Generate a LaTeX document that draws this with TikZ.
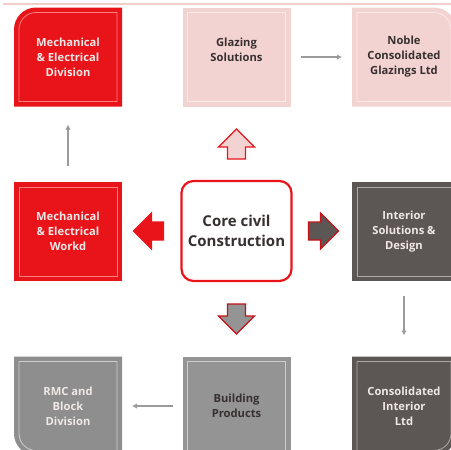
\documentclass[tikz,border=0pt]{standalone}
\usepackage{fontspec}
\setmainfont{Open Sans}
\usetikzlibrary{arrows.meta,positioning,backgrounds}

\definecolor{mered}{RGB}{232,20,26}
\definecolor{glzpink}{RGB}{243,211,209}
\definecolor{intgrey}{RGB}{92,86,85}
\definecolor{bldgrey}{RGB}{148,148,148}
\definecolor{rmcgrey}{RGB}{142,142,142}
\definecolor{txtdark}{RGB}{55,48,48}
\definecolor{txtlight}{RGB}{240,232,230}
\definecolor{linkgrey}{RGB}{155,155,155}
\definecolor{rulepink}{RGB}{242,205,201}
\definecolor{redframe}{RGB}{246,130,130}
\definecolor{pinkframe}{RGB}{251,233,231}
\definecolor{darkframe}{RGB}{175,170,168}
\definecolor{greyframe}{RGB}{205,205,205}

\tikzset{fatarrow/.pic={
    \path[pic actions, line join=miter] (0pt,-9pt) -- (12pt,-9pt) -- (12pt,-18pt) -- (30pt,0pt)
      -- (12pt,18pt) -- (12pt,9pt) -- (0pt,9pt) -- cycle;
}}

\begin{document}
\begin{tikzpicture}[x=1pt, y=-1pt, >=Latex, outer sep=0pt]
% Define styles for the boxes, the centre block and the links
\tikzstyle{box} = [rectangle, minimum width=108pt, minimum height=99pt, align=center, inner sep=0pt, font=\bfseries\fontsize{11.2}{15}\selectfont]
\tikzstyle{core} = [box, draw=mered, line width=2.2pt, fill=white, rounded corners=12pt, minimum width=110pt, minimum height=100pt, text=txtdark, font=\bfseries\fontsize{15}{19.5}\selectfont]
\tikzstyle{link} = [draw=linkgrey, line width=1.8pt, -{Latex[length=5pt,width=5.5pt]}]
\tikzstyle{frame} = [line width=0.8pt]

\useasboundingbox (0,0) rectangle (451,450);
\clip (0,0) rectangle (451,450);

% Rule along the top
\draw[rulepink, line width=2pt] (3,3.5) -- (451,3.5);

% Nodes placement
\node [box, text=txtlight] (med) at (68,57) {Mechanical\\\& Electrical\\Division};
\node [box, fill=glzpink, text=txtdark, right of=med, node distance=168.5pt] (glz) {Glazing\\Solutions\\\mbox{}};
\node [box, text=txtdark, right of=glz, node distance=167.5pt, minimum width=104pt] (noble) {Noble\\Consolidated\\Glazings Ltd};

\node [box, fill=mered, text=txtlight, below of=med, node distance=174.5pt] (mew) {Mechanical\\\& Electrical\\Workd};
\node [core, below of=glz, node distance=174pt] (core) {Core civil\\Construction};
\node [box, fill=intgrey, text=txtlight, below of=noble, node distance=174.5pt, minimum width=104pt] (int) {Interior\\Solutions \&\\Design};

\node [box, text=txtlight, below of=mew, node distance=174.5pt] (rmc) {RMC and\\Block\\Division};
\node [box, fill=bldgrey, text=txtdark, below of=core, node distance=175pt] (bld) {Building\\Products};
\node [box, text=txtlight, below of=int, node distance=174.5pt, minimum width=104pt] (cil) {Consolidated\\Interior\\Ltd};

% Boxes with one round corner, and the inner frames
\begin{scope}[on background layer]
  \fill[mered] (med.south west) -- ([yshift=-22pt]med.north west) arc[start angle=180, end angle=90, radius=22pt] -- (med.north east) -- (med.south east) -- cycle;
  \draw[frame, redframe] ([shift={(5pt,5pt)}]med.south west) -- ([shift={(5pt,-22pt)}]med.north west) arc[start angle=180, end angle=90, radius=17pt] -- ([shift={(-5pt,-5pt)}]med.north east) -- ([shift={(-5pt,5pt)}]med.south east) -- cycle;

  \fill[glzpink] (noble.south east) -- ([yshift=-22pt]noble.north east) arc[start angle=0, end angle=90, radius=22pt] -- (noble.north west) -- (noble.south west) -- cycle;
  \draw[frame, pinkframe] ([shift={(-5pt,5pt)}]noble.south east) -- ([shift={(-5pt,-22pt)}]noble.north east) arc[start angle=0, end angle=90, radius=17pt] -- ([shift={(5pt,-5pt)}]noble.north west) -- ([shift={(5pt,5pt)}]noble.south west) -- cycle;

  \fill[rmcgrey] (rmc.north west) -- ([yshift=22pt]rmc.south west) arc[start angle=180, end angle=270, radius=22pt] -- (rmc.south east) -- (rmc.north east) -- cycle;
  \draw[frame, greyframe] ([shift={(5pt,-5pt)}]rmc.north west) -- ([shift={(5pt,22pt)}]rmc.south west) arc[start angle=180, end angle=270, radius=17pt] -- ([shift={(-5pt,5pt)}]rmc.south east) -- ([shift={(-5pt,-5pt)}]rmc.north east) -- cycle;

  \fill[intgrey] (cil.north east) -- ([yshift=22pt]cil.south east) arc[start angle=0, end angle=-90, radius=22pt] -- (cil.south west) -- (cil.north west) -- cycle;
  \draw[frame, darkframe] ([shift={(-5pt,-5pt)}]cil.north east) -- ([shift={(-5pt,22pt)}]cil.south east) arc[start angle=0, end angle=-90, radius=17pt] -- ([shift={(5pt,5pt)}]cil.south west) -- ([shift={(5pt,-5pt)}]cil.north west) -- cycle;
\end{scope}

\foreach \n/\c in {glz/pinkframe, mew/redframe, int/darkframe, bld/greyframe}
  \draw[frame, \c] ([shift={(5pt,5pt)}]\n.south west) rectangle ([shift={(-5pt,-5pt)}]\n.north east);

% Block arrows out of the centre
\pic[draw=mered, fill=glzpink, line width=1.2pt, rotate=90] at ([yshift=22pt]core.north) {fatarrow};
\pic[draw=mered, fill=mered, line width=1.2pt, rotate=180] at ([xshift=-18pt]core.west) {fatarrow};
\pic[draw=mered!85!black, fill=intgrey, line width=1.2pt] at ([xshift=17pt]core.east) {fatarrow};
\pic[draw=mered!85!black, fill=bldgrey, line width=1.2pt, rotate=-90] at ([yshift=-23pt]core.south) {fatarrow};

% Draw edges
\draw[link, shorten <=16pt, shorten >=18pt] (mew) -- (med);
\draw[link, shorten <=10pt, shorten >=10pt] (glz) -- (noble);
\draw[link, shorten <=15pt, shorten >=21pt] (int) -- (cil);
\draw[link, shorten <=10pt, shorten >=10pt] (bld) -- (rmc);
\end{tikzpicture}
\end{document}
